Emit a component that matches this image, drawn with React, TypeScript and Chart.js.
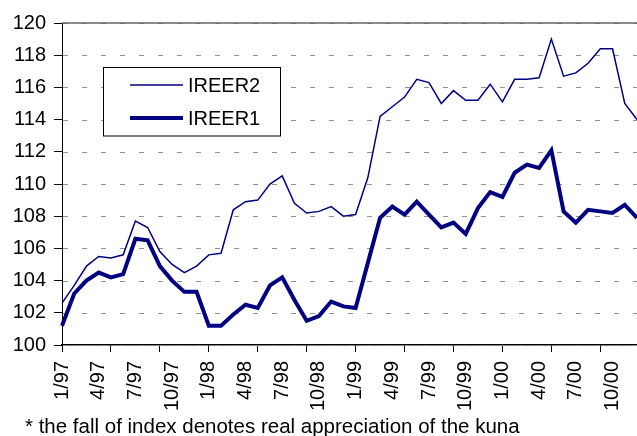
import React, { useEffect, useRef } from "react";
import { Chart, registerables } from "chart.js";

Chart.register(...registerables);

const categories = [
  "1/97", "2/97", "3/97", "4/97", "5/97", "6/97", "7/97", "8/97", "9/97", "10/97", "11/97", "12/97",
  "1/98", "2/98", "3/98", "4/98", "5/98", "6/98", "7/98", "8/98", "9/98", "10/98", "11/98", "12/98",
  "1/99", "2/99", "3/99", "4/99", "5/99", "6/99", "7/99", "8/99", "9/99", "10/99", "11/99", "12/99",
  "1/00", "2/00", "3/00", "4/00", "5/00", "6/00", "7/00", "8/00", "9/00", "10/00", "11/00", "12/00",
];

const tickLabels = [
  "1/97", "4/97", "7/97", "10/97", "1/98", "4/98", "7/98", "10/98",
  "1/99", "4/99", "7/99", "10/99", "1/00", "4/00", "7/00", "10/00",
];

const ireer2 = [
  102.6, 103.7, 104.9, 105.5, 105.4, 105.6, 107.7, 107.3, 105.8, 105.0, 104.5, 104.9,
  105.6, 105.7, 108.4, 108.9, 109.0, 110.0, 110.5, 108.8, 108.2, 108.3, 108.6, 108.0,
  108.1, 110.4, 114.2, 114.8, 115.4, 116.5, 116.3, 115.0, 115.8, 115.2, 115.2, 116.2,
  115.1, 116.5, 116.5, 116.6, 119.0, 116.7, 116.9, 117.5, 118.4, 118.4, 115.0, 114.0,
];

const ireer1 = [
  101.2, 103.2, 104.0, 104.5, 104.2, 104.4, 106.6, 106.5, 104.9, 104.0, 103.3, 103.3,
  101.2, 101.2, 101.9, 102.5, 102.3, 103.7, 104.2, 102.8, 101.5, 101.8, 102.7, 102.4,
  102.3, 105.1, 107.9, 108.6, 108.1, 108.9, 108.1, 107.3, 107.6, 106.9, 108.5, 109.5,
  109.2, 110.7, 111.2, 111.0, 112.1, 108.3, 107.6, 108.4, 108.3, 108.2, 108.7, 107.9,
];

const yMin = 100;
const yMax = 120;
const yStep = 2;

const footnote = "* the fall of index denotes real appreciation of the kuna";

const FONT = "'Liberation Sans', Arial, sans-serif";
const NAVY = "#000080";

// dashed horizontal grid lines at the y scale's own ticks
const dashedGridPlugin = {
  id: "dashedGrid",
  beforeDatasetsDraw(chart: any) {
    const { ctx, chartArea } = chart;
    const yScale = chart.scales.y;
    ctx.save();
    ctx.strokeStyle = "#909090";
    ctx.lineWidth = 1;
    ctx.setLineDash([5, 14]);
    yScale.ticks.forEach((t: any) => {
      const y = Math.round(yScale.getPixelForValue(t.value)) + 0.5;
      ctx.beginPath();
      ctx.moveTo(chartArea.left + 1, y);
      ctx.lineTo(chartArea.right, y);
      ctx.stroke();
    });
    ctx.setLineDash([]);
    ctx.strokeStyle = "#666666";
    ctx.lineWidth = 1.5;
    ctx.beginPath();
    ctx.moveTo(chartArea.left, chartArea.top);
    ctx.lineTo(chartArea.right, chartArea.top);
    ctx.stroke();
    ctx.restore();
  },
};

const boxLegendPlugin = {
  id: "boxLegend",
  afterDraw(chart: any) {
    const ctx = chart.ctx;
    const bx = 103.5, by = 67.5, bw = 177, bh = 68.5;
    ctx.save();
    ctx.fillStyle = "#ffffff";
    ctx.fillRect(bx, by, bw, bh);
    ctx.strokeStyle = "#000000";
    ctx.lineWidth = 1;
    ctx.strokeRect(bx, by, bw, bh);
    const rows = [85, 118];
    chart.data.datasets.forEach((ds: any, i: number) => {
      const y = rows[i];
      ctx.strokeStyle = ds.borderColor;
      ctx.lineWidth = ds.borderWidth;
      ctx.beginPath();
      ctx.moveTo(130, y);
      ctx.lineTo(183, y);
      ctx.stroke();
      ctx.fillStyle = "#000000";
      ctx.font = `20px ${FONT}`;
      ctx.textBaseline = "middle";
      ctx.textAlign = "left";
      ctx.fillText(ds.label, 188, y + 1);
    });
    ctx.restore();
  },
};

export default function App() {
  const canvasRef = useRef<HTMLCanvasElement | null>(null);

  useEffect(() => {
    if (!canvasRef.current) return;
    Chart.defaults.font.family = FONT;
    const chart = new Chart(canvasRef.current, {
      type: "line",
      data: {
        labels: categories,
        datasets: [
          {
            label: "IREER2",
            data: ireer2,
            borderColor: NAVY,
            backgroundColor: NAVY,
            borderWidth: 1.5,
            pointRadius: 0,
            tension: 0,
            fill: false,
          },
          {
            label: "IREER1",
            data: ireer1,
            borderColor: NAVY,
            backgroundColor: NAVY,
            borderWidth: 4,
            pointRadius: 0,
            tension: 0,
            fill: false,
          },
        ],
      },
      options: {
        responsive: false,
        animation: false,
        devicePixelRatio: 1,
        layout: { padding: { top: 23, left: 0, right: 0, bottom: 0 } },
        plugins: {
          legend: { display: false },
          tooltip: { enabled: false },
          title: { display: false },
        },
        scales: {
          x: {
            type: "category",
            offset: false,
            ticks: {
              autoSkip: false,
              maxRotation: 90,
              minRotation: 90,
              padding: 9,
              color: "#000000",
              font: { size: 20, family: FONT },
              callback: (_v: any, i: number) =>
                tickLabels.includes(categories[i]) ? categories[i] : "",
            },
            grid: {
              drawOnChartArea: false,
              drawTicks: true,
              tickLength: 7,
              tickWidth: 1,
              tickColor: (c: any) => (c.index % 4 === 0 ? "#000000" : "rgba(0,0,0,0)"),
            },
            border: { display: true, color: "#000000", width: 1.5 },
            afterFit: (s: any) => {
              s.height = 91;
              s.paddingLeft = 0;
              s.paddingRight = 0;
            },
          },
          y: {
            min: yMin,
            max: yMax,
            ticks: {
              stepSize: yStep,
              padding: 8,
              color: "#000000",
              font: { size: 20, family: FONT },
            },
            grid: {
              drawOnChartArea: false,
              tickColor: "#000000",
              tickLength: 8,
            },
            border: { display: true, color: "#000000", width: 1 },
            afterFit: (s: any) => {
              s.width = 62;
            },
          },
        },
      },
      plugins: [dashedGridPlugin, boxLegendPlugin],
    } as any);
    return () => chart.destroy();
  }, []);

  return (
    <div
      style={{
        position: "absolute",
        left: 0,
        top: 0,
        width: 637,
        height: 436,
        background: "#ffffff",
        overflow: "hidden",
      }}
    >
      <canvas ref={canvasRef} width={637} height={436} style={{ display: "block" }} />
      <div
        style={{
          position: "absolute",
          left: 25,
          top: 416,
          fontFamily: FONT,
          fontSize: 20.5,
          lineHeight: "20px",
          whiteSpace: "nowrap",
          color: "#000000",
        }}
      >
        {footnote}
      </div>
    </div>
  );
}
